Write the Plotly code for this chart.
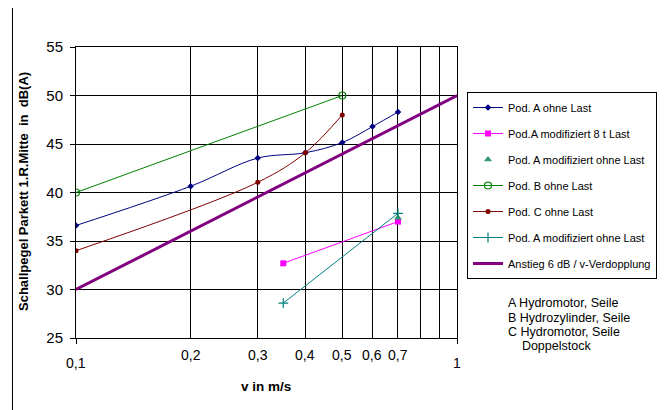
import numpy as np
import plotly.graph_objects as go

# ---- data ----
a_x = [0.1, 0.2, 0.3, 0.4, 0.5, 0.6, 0.7]
a_y = [36.6, 40.65, 43.55, 44.1, 45.15, 46.8, 48.3]

a8_x = [0.35, 0.7]
a8_y = [32.7, 37.0]

amod_tri_x = [0.7]
amod_tri_y = [37.4]

b_x = [0.1, 0.5]
b_y = [40.0, 50.0]

c_x = [0.1, 0.3, 0.4, 0.5]
c_y = [34.0, 41.05, 44.1, 48.0]

amod_x = [0.35, 0.7]
amod_y = [28.6, 37.85]

ref_x = [0.1, 1.0]
ref_y = [30.0, 50.0]

x_major = [0.1, 1.0]
x_minor = [0.2, 0.3, 0.4, 0.5, 0.6, 0.7, 0.8, 0.9]
x_labels = {0.1: "0,1", 0.2: "0,2", 0.3: "0,3", 0.4: "0,4", 0.5: "0,5",
            0.6: "0,6", 0.7: "0,7", 1.0: "1"}
x_low_labels = [0.1, 1.0]
y_ticks = [25, 30, 35, 40, 45, 50, 55]
note_lines = ["A Hydromotor, Seile", "B Hydrozylinder, Seile", "C Hydromotor, Seile",
              "    Doppelstock"]

FONT = "Liberation Sans, Arial, sans-serif"

# page has 8px body margin -> screen px = layout px + 8
L, T, PW, PH = 68, 39, 381, 291
SX0, SY0 = L + 8, T + 8  # screen origin of plot area


def px(sx):
    return (sx - SX0) / PW


def py(sy):
    return (SY0 + PH - sy) / PH


fig = go.Figure()


def add(x, y, name, color, symbol, msize, lw=1, mode="lines+markers", mline=None, shape="spline"):
    marker = dict(symbol=symbol, size=msize, color=color)
    if mline is not None:
        marker["line"] = mline
    fig.add_trace(go.Scatter(
        x=x, y=y, name=name, mode=mode, legendgroup=name,
        line=dict(color=color, width=lw, shape=shape, smoothing=1.0),
        marker=marker))


add(a_x, a_y, "Pod. A ohne Last", "#000080", "diamond", 5)
add(a8_x, a8_y, "Pod.A modifiziert 8 t Last", "#FF00FF", "square", 6)
add(amod_tri_x, amod_tri_y, "Pod. A modifiziert ohne Last", "#339966", "triangle-up", 7, mode="markers")
add(b_x, b_y, "Pod. B ohne Last", "#008000", "circle-open", 7, mline=dict(width=1.2, color="#008000"))
add(c_x, c_y, "Pod. C ohne Last", "#800000", "circle", 5)
add(amod_x, amod_y, "Pod. A modifiziert ohne Last ", "#008080", "cross-thin-open", 7,
    mline=dict(width=1.2, color="#008080"))
fig.add_trace(go.Scatter(x=ref_x, y=ref_y, name="Anstieg 6 dB / v-Verdopplung", mode="lines",
                         legendgroup="ref", line=dict(color="#800080", width=3)))

annotations = []
for v, t in x_labels.items():
    low = v in x_low_labels
    annotations.append(dict(x=np.log10(v), y=0, xref="x", yref="paper", text=t,
                            showarrow=False, yanchor="top", xanchor="center",
                            yshift=-(15 if low else 7),
                            font=dict(size=14, color="black", family=FONT)))
annotations.append(dict(x=px(266), y=py(386), xref="paper", yref="paper",
                        xanchor="center", yanchor="middle",
                        text="<b>v in m/s</b>", showarrow=False,
                        font=dict(size=13.5, color="black", family=FONT)))
annotations.append(dict(x=px(23), y=py(192), xref="paper", yref="paper",
                        xanchor="center", yanchor="middle",
                        text="<b>Schallpegel Parkett 1.R.Mitte  in  dB(A)</b>", textangle=-90,
                        showarrow=False, font=dict(size=13, color="black", family=FONT)))
for i, line in enumerate(note_lines):
    annotations.append(dict(x=px(506), y=py(303 + i * 14.5), xref="paper", yref="paper",
                            xanchor="left", yanchor="middle", align="left",
                            text=line.replace(" ", "&nbsp;") if line.startswith(" ") else line,
                            showarrow=False, font=dict(size=12.5, color="black", family=FONT)))

shapes = [dict(type="rect", xref="paper", yref="paper",
               x0=px(12.5), x1=px(660.5), y0=py(425), y1=py(7),
               line=dict(color="black", width=1), fillcolor="rgba(0,0,0,0)", layer="below")]

fig.update_layout(
    width=665, height=410,
    margin=dict(l=L, r=665 - L - PW, t=T, b=410 - T - PH),
    paper_bgcolor="white", plot_bgcolor="white",
    font=dict(family=FONT, color="black"),
    separators=",.",
    showlegend=True,
    legend=dict(x=px(467), y=py(92), xanchor="left", yanchor="top",
                bordercolor="black", borderwidth=1, bgcolor="white",
                font=dict(size=11, family=FONT, color="black"),
                itemwidth=30, tracegroupgap=7),
    annotations=annotations,
    shapes=shapes,
)
fig.update_xaxes(type="log", range=[-1, 0], tickvals=x_major, showticklabels=False,
                 ticks="outside", ticklen=5, tickcolor="black",
                 showgrid=True, gridcolor="black", gridwidth=1,
                 minor=dict(tickvals=x_minor, showgrid=True, gridcolor="black", gridwidth=1, ticks=""),
                 showline=True, linecolor="black", linewidth=1, mirror=True, zeroline=False)
fig.update_yaxes(range=[25, 55], tickvals=y_ticks, ticks="outside", ticklen=5, tickcolor="black",
                 tickfont=dict(size=15, family=FONT, color="black"), ticklabelstandoff=4,
                 showgrid=True, gridcolor="black", gridwidth=1,
                 showline=True, linecolor="black", linewidth=1, mirror=True, zeroline=False)

fig.write_html("out.html")
